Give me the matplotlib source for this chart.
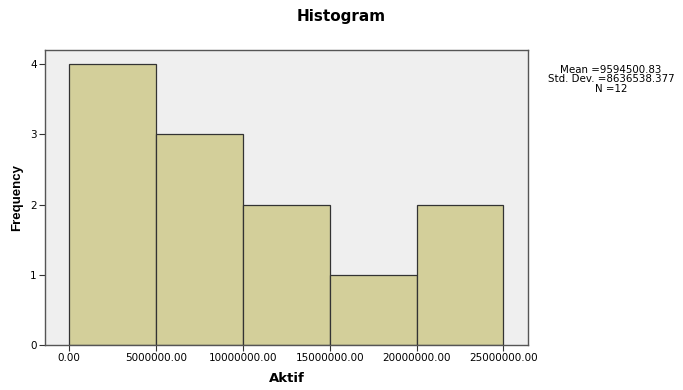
import matplotlib
matplotlib.use("Agg")
import matplotlib.pyplot as plt

plt.rcParams['font.family'] = ['DejaVu Sans']

bin_edges = [0, 5000000, 10000000, 15000000, 20000000, 25000000]
frequencies = [4, 3, 2, 1, 2]
xtick_values = [0, 5000000, 10000000, 15000000, 20000000, 25000000]
xtick_labels = ["0.00", "5000000.00", "10000000.00", "15000000.00", "20000000.00", "25000000.00"]
ytick_values = [0, 1, 2, 3, 4]
stats_text = "Mean =9594500.83\nStd. Dev. =8636538.377\nN =12"

fig = plt.figure(figsize=(6.83, 3.9), dpi=100)
ax = fig.add_axes([45/683, 1-345/390, (528-45)/683, (345-49.5)/390])
ax.set_facecolor('#efefef')

lefts = bin_edges[:-1]
widths = [b - a for a, b in zip(bin_edges[:-1], bin_edges[1:])]
ax.bar(lefts, frequencies, width=widths, align='edge', color='#d3cf9a',
       edgecolor='#333333', linewidth=0.9)

ax.set_xlim(-1400000, 26420000)
ax.set_ylim(0, 4.21)
ax.set_xticks(xtick_values)
ax.set_xticklabels(xtick_labels, fontsize=7.5)
ax.set_yticks(ytick_values)
ax.set_yticklabels([str(v) for v in ytick_values], fontsize=7.5)
ax.tick_params(axis='both', length=4, width=0.8, color='#333333', pad=2)
for s in ax.spines.values():
    s.set_color('#555555')
    s.set_linewidth(1.0)

ax.set_xlabel("Aktif", fontsize=9.5, fontweight='bold', labelpad=6)
ax.set_ylabel("Frequency", fontsize=9.5, fontweight='bold', labelpad=5,
              family=['Liberation Sans', 'DejaVu Sans'])
fig.text(0.5, 1-17/390, "Histogram", ha='center', va='center', fontsize=11, fontweight='bold')
fig.text(611/683, 1-79.5/390, stats_text, ha='center', va='center', fontsize=7.4, linespacing=0.95)

fig.savefig("out.png", dpi=100)
